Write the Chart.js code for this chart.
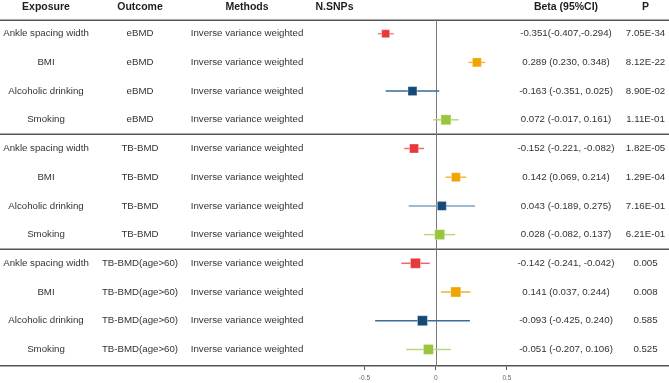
<!DOCTYPE html>
<html>
<head>
<meta charset="utf-8">
<script src="https://cdn.jsdelivr.net/npm/chart.js@4"></script>
<style>
html,body{margin:0;padding:0;background:#fff;}
#wrap{width:669px;height:383px;position:relative;}
</style>
</head>
<body>
<div id="wrap"><canvas id="forest"></canvas></div>
<script>
// table + forest data, one entry per row (top to bottom)
const exposures = ['Ankle spacing width','BMI','Alcoholic drinking','Smoking',
                   'Ankle spacing width','BMI','Alcoholic drinking','Smoking',
                   'Ankle spacing width','BMI','Alcoholic drinking','Smoking'];
const outcomes = ['eBMD','eBMD','eBMD','eBMD',
                  'TB-BMD','TB-BMD','TB-BMD','TB-BMD',
                  'TB-BMD(age>60)','TB-BMD(age>60)','TB-BMD(age>60)','TB-BMD(age>60)'];
const methods = Array(12).fill('Inverse variance weighted');
const betas   = [-0.351, 0.289, -0.163, 0.072, -0.152, 0.142, 0.043, 0.028, -0.142, 0.141, -0.093, -0.051];
const lowerCI = [-0.407, 0.230, -0.351, -0.017, -0.221, 0.069, -0.189, -0.082, -0.241, 0.037, -0.425, -0.207];
const upperCI = [-0.294, 0.348, 0.025, 0.161, -0.082, 0.214, 0.275, 0.137, -0.042, 0.244, 0.240, 0.106];
const betaLabels = ['-0.351(-0.407,-0.294)','0.289 (0.230, 0.348)','-0.163 (-0.351, 0.025)','0.072 (-0.017, 0.161)',
                    '-0.152 (-0.221, -0.082)','0.142 (0.069, 0.214)','0.043 (-0.189, 0.275)','0.028 (-0.082, 0.137)',
                    '-0.142 (-0.241, -0.042)','0.141 (0.037, 0.244)','-0.093 (-0.425, 0.240)','-0.051 (-0.207, 0.106)'];
const pValues = ['7.05E-34','8.12E-22','8.90E-02','1.11E-01',
                 '1.82E-05','1.29E-04','7.16E-01','6.21E-01',
                 '0.005','0.008','0.585','0.525'];
const headers = ['Exposure','Outcome','Methods','N.SNPs','Beta (95%CI)','P'];
const xTicks = [-0.5, 0, 0.5];

// styling
const markColors = ['#e6393b','#f0a400','#154a76','#9ac53c'];
const ciColors = ['#f08a8a','#f4b54a','#3a6891','#b5d877','#ee7070','#f4b54a','#7ea3c2','#b9da7e','#ee6666','#f2ad34','#3d6c96','#b7d97c'];
const markSide = [8, 9, 9, 10, 9, 9, 9, 10, 10, 10, 10, 10];
const colX = [46, 140, 247, 334.5, 566, 645.5];

const rows = betas.map((b, i) => i + 1);

const ciSets = rows.map((k, i) => ({
  type: 'line',
  data: [{x: lowerCI[i], y: k}, {x: upperCI[i], y: k}],
  borderColor: ciColors[i],
  borderWidth: 1.5,
  pointRadius: 0,
  order: 2
}));

const pointSet = {
  type: 'scatter',
  data: rows.map((k, i) => ({x: betas[i], y: k})),
  pointStyle: 'rect',
  pointRadius: markSide.map(s => s / Math.SQRT2),
  backgroundColor: rows.map((k, i) => markColors[i % 4]),
  borderColor: 'rgba(255,255,255,0.35)',
  borderWidth: 1,
  order: 1
};

const tablePlugin = {
  id: 'table',
  beforeDatasetsDraw(chart) {
    const {ctx, chartArea, scales: {x, y}} = chart;
    ctx.save();
    ctx.strokeStyle = '#555';
    ctx.lineWidth = 1.5;
    [0.51, 4.5, 8.5].forEach(k => {
      const py = Math.round(y.getPixelForValue(k)) + 0.25;
      ctx.beginPath();
      ctx.moveTo(chartArea.left, py);
      ctx.lineTo(chartArea.right, py);
      ctx.stroke();
    });
    const x0 = Math.round(x.getPixelForValue(0)) + 0.5;
    ctx.strokeStyle = '#7a7a7a';
    ctx.lineWidth = 1;
    ctx.beginPath();
    ctx.moveTo(x0, y.getPixelForValue(0.51));
    ctx.lineTo(x0, chartArea.bottom);
    ctx.stroke();
    ctx.restore();
  },
  afterDraw(chart) {
    const {ctx, scales: {y}} = chart;
    ctx.save();
    ctx.textAlign = 'center';
    ctx.textBaseline = 'middle';
    ctx.fillStyle = '#1e1e1e';
    ctx.font = 'bold 10.5px "Liberation Sans", Arial, sans-serif';
    const hy = y.getPixelForValue(0.08);
    headers.forEach((h, c) => ctx.fillText(h, colX[c], hy));
    ctx.fillStyle = '#333';
    ctx.font = '9.7px "Liberation Sans", Arial, sans-serif';
    rows.forEach((k, i) => {
      const py = y.getPixelForValue(k);
      ctx.fillText(exposures[i], colX[0], py);
      ctx.fillText(outcomes[i], colX[1], py);
      ctx.fillText(methods[i], colX[2], py);
      ctx.fillText(betaLabels[i], colX[4], py);
      ctx.fillText(pValues[i], colX[5], py);
    });
    ctx.restore();
  }
};

new Chart(document.getElementById('forest'), {
  type: 'scatter',
  data: {datasets: [pointSet, ...ciSets]},
  plugins: [tablePlugin],
  options: {
    responsive: true,
    maintainAspectRatio: false,
    animation: false,
    layout: {padding: 0, autoPadding: false},
    plugins: {legend: {display: false}, tooltip: {enabled: false}},
    scales: {
      x: {
        type: 'linear',
        min: -435.7 / 142.5,
        max: (669 - 435.7) / 142.5,
        afterBuildTicks: axis => { axis.ticks = xTicks.map(v => ({value: v})); },
        afterFit: axis => { axis.height = 17; },
        grid: {drawOnChartArea: false, drawTicks: true, tickLength: 4, color: '#555', lineWidth: 1},
        border: {display: true, color: '#555', width: 1.5},
        ticks: {
          padding: 4,
          color: '#666',
          font: {size: 6.5, family: '"Liberation Sans", Arial, sans-serif'},
          maxRotation: 0,
          callback: v => String(v)
        }
      },
      y: {
        type: 'linear',
        display: false,
        reverse: true,
        min: -0.174,
        max: 12.578
      }
    }
  }
});
</script>
</body>
</html>
